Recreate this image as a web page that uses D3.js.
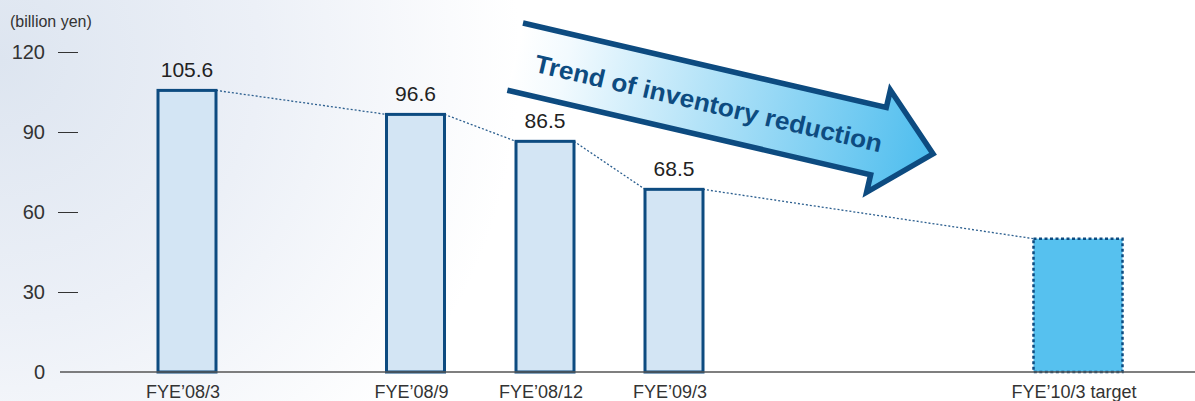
<!DOCTYPE html>
<html>
<head>
<meta charset="utf-8">
<script src="https://cdn.jsdelivr.net/npm/d3@7"></script>
<style>
  html, body { margin: 0; padding: 0; background: #fff; }
  svg { display: block; font-family: "Liberation Sans", Arial, Helvetica, sans-serif; }
</style>
</head>
<body>
<div id="chart"></div>
<script>
(function () {
  // data
  const categories = ["FYE\u201908/3", "FYE\u201908/9", "FYE\u201908/12", "FYE\u201909/3", "FYE\u201910/3 target"];
  const monthOffsets = [0, 6, 9, 12, 24];
  const values = [105.6, 96.6, 86.5, 68.5, 50];
  const isTarget = [false, false, false, false, true];
  const yTicks = [0, 30, 60, 90, 120];
  const unitLabel = "(billion yen)";
  const arrowLabel = "Trend of inventory reduction";

  const width = 1195;
  const height = 401;
  const navy = "#0d4b80";

  const data = categories.map((c, i) => ({
    label: c,
    month: monthOffsets[i],
    value: values[i],
    target: isTarget[i]
  }));

  const svg = d3.select("#chart")
    .append("svg")
    .attr("width", width)
    .attr("height", height);

  const defs = svg.append("defs");

  // soft tint in the top-left corner
  const bg = defs.append("radialGradient")
    .attr("id", "bg")
    .attr("gradientUnits", "userSpaceOnUse")
    .attr("cx", 0).attr("cy", 60).attr("r", 520);
  bg.append("stop").attr("offset", "0").attr("stop-color", "#dde5f0");
  bg.append("stop").attr("offset", "0.5").attr("stop-color", "#ecf0f7");
  bg.append("stop").attr("offset", "1").attr("stop-color", "#ffffff");

  const arrowGrad = defs.append("linearGradient")
    .attr("id", "arrowGrad")
    .attr("gradientUnits", "userSpaceOnUse")
    .attr("x1", 0).attr("y1", 0).attr("x2", 429).attr("y2", 0);
  arrowGrad.append("stop").attr("offset", "0").attr("stop-color", "#ffffff");
  arrowGrad.append("stop").attr("offset", "0.12").attr("stop-color", "#f2fafe");
  arrowGrad.append("stop").attr("offset", "1").attr("stop-color", "#4dbdee");

  svg.append("rect")
    .attr("width", width)
    .attr("height", height)
    .attr("fill", "url(#bg)");

  // scales: uneven spacing along the time line
  const x = d3.scaleLinear()
    .domain(monthOffsets)
    .range([187, 415.5, 545, 674, 1078]);

  const y = d3.scaleLinear()
    .domain([0, 120])
    .range([372, 52]);

  const barW = d => d.target ? 89 : 58;

  // y axis: short dashes with labels
  const yAxis = d3.axisLeft(y)
    .tickValues(yTicks)
    .tickSize(20)
    .tickPadding(13);

  const gy = svg.append("g")
    .attr("transform", "translate(78,0)")
    .call(yAxis);
  gy.select(".domain").remove();
  gy.selectAll(".tick line")
    .attr("stroke", "#333")
    .attr("stroke-width", 1);
  gy.selectAll(".tick text")
    .attr("fill", "#333")
    .style("font-size", "20px");
  gy.selectAll(".tick").filter(d => d === 0).select("line").remove();

  svg.append("text")
    .attr("x", 10)
    .attr("y", 27)
    .attr("fill", "#333")
    .style("font-size", "16px")
    .text(unitLabel);

  // dotted connectors between bar tops
  const links = d3.pairs(data);
  svg.append("g")
    .selectAll("line")
    .data(links)
    .enter().append("line")
    .attr("x1", d => x(d[0].month) + barW(d[0]) / 2)
    .attr("y1", d => y(d[0].value))
    .attr("x2", d => x(d[1].month) - barW(d[1]) / 2)
    .attr("y2", d => y(d[1].value))
    .attr("stroke", "#2c5f8f")
    .attr("stroke-width", 1.3)
    .attr("stroke-dasharray", "2,2");

  // bars
  svg.append("g")
    .selectAll("rect")
    .data(data)
    .enter().append("rect")
    .attr("x", d => x(d.month) - barW(d) / 2)
    .attr("y", d => y(d.value))
    .attr("width", barW)
    .attr("height", d => y(0) - y(d.value))
    .attr("fill", d => d.target ? "#56c1ef" : "#d3e5f4")
    .attr("stroke", navy)
    .attr("stroke-width", d => d.target ? 2.5 : 3)
    .attr("stroke-dasharray", d => d.target ? "3,2.5" : null);

  // value labels (not on the target)
  svg.append("g")
    .selectAll("text")
    .data(data.filter(d => !d.target))
    .enter().append("text")
    .attr("x", d => x(d.month))
    .attr("y", d => y(d.value) - 13)
    .attr("text-anchor", "middle")
    .attr("fill", "#222")
    .style("font-size", "21px")
    .text(d => d.value.toFixed(1));

  // baseline
  svg.append("line")
    .attr("x1", 60).attr("x2", width)
    .attr("y1", y(0)).attr("y2", y(0))
    .attr("stroke", "#555")
    .attr("stroke-width", 1.5);

  // category labels
  svg.append("g")
    .selectAll("text")
    .data(data)
    .enter().append("text")
    .attr("x", d => x(d.month) - 4)
    .attr("y", 398)
    .attr("text-anchor", "middle")
    .attr("fill", "#333")
    .style("font-size", "18px")
    .text(d => d.label);

  // big trend arrow
  const arrow = svg.append("g")
    .attr("transform", "translate(523,23) rotate(13.1)");

  const shaftLen = 373, thick = 69, barb = 18, tip = 429;
  const pts = [
    [0, 0], [shaftLen, 0], [shaftLen, -barb], [tip, thick / 2],
    [shaftLen, thick + barb], [shaftLen, thick], [0, thick]
  ];

  arrow.append("path")
    .attr("d", "M" + pts.join("L") + "Z")
    .attr("fill", "url(#arrowGrad)");

  arrow.append("path")
    .attr("d", d3.line()(pts))
    .attr("fill", "none")
    .attr("stroke", navy)
    .attr("stroke-width", 5.5)
    .attr("stroke-linejoin", "miter");

  arrow.append("text")
    .attr("x", 21)
    .attr("y", 45)
    .attr("fill", navy)
    .attr("font-weight", "bold")
    .attr("textLength", 356)
    .attr("lengthAdjust", "spacingAndGlyphs")
    .style("font-size", "25px")
    .text(arrowLabel);
})();
</script>
</body>
</html>
